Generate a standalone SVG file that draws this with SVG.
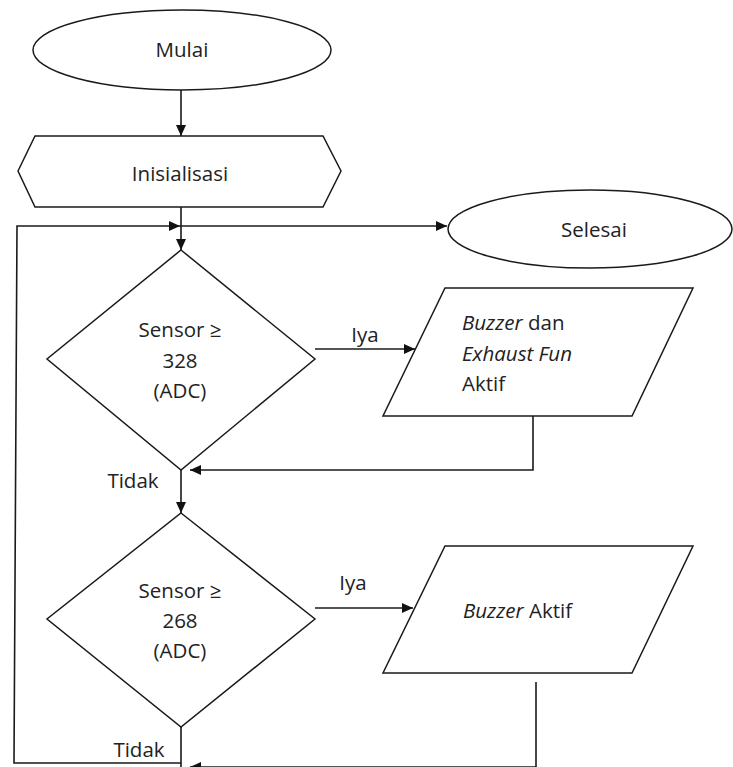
<svg xmlns="http://www.w3.org/2000/svg" width="733" height="767" viewBox="0 0 733 767">
<style>
.s{fill:#fff;stroke:#1a1a1a;stroke-width:1.5}
.c{fill:none;stroke:#1a1a1a;stroke-width:1.6}
text{font-family:"Open Sans","Noto Sans","Liberation Sans",sans-serif;font-size:20.5px;fill:#222}
.m{text-anchor:middle}
.i{font-style:italic}
</style>
<defs>
<marker id="ah" markerUnits="userSpaceOnUse" markerWidth="12" markerHeight="10" refX="11" refY="5" orient="auto">
<path d="M0,0 L11,5 L0,10 Z" fill="#111"/>
</marker>
</defs>
<rect width="733" height="767" fill="#fff"/>
<g id="connectors">
<path class="c" d="M181,90 V136" marker-end="url(#ah)"/>
<path class="c" d="M181,207 V250" marker-end="url(#ah)"/>
<path class="c" d="M181,763 H14 L17,226 H180" marker-end="url(#ah)"/>
<path class="c" d="M180,226 H447" marker-end="url(#ah)"/>
<path class="c" d="M315,349 H415" marker-end="url(#ah)"/>
<path class="c" d="M533,416 V470 H190" marker-end="url(#ah)"/>
<path class="c" d="M181,470 V513" marker-end="url(#ah)"/>
<path class="c" d="M315,608 H413" marker-end="url(#ah)"/>
<path class="c" d="M536,682 V767"/>
<path class="c" d="M536,767 H190" marker-end="url(#ah)"/>
<path class="c" d="M181,727 V767"/>
<text x="365" y="342" class="m">Iya</text>
<text x="353" y="590" class="m">Iya</text>
<text x="133" y="488" class="m">Tidak</text>
<text x="139" y="757" class="m">Tidak</text>
</g>
<g id="mulai">
<ellipse class="s" cx="182" cy="50" rx="149" ry="40"/>
<text x="182" y="57" class="m">Mulai</text>
</g>
<g id="inisialisasi">
<polygon class="s" points="18,171 35,136 323,136 341,171 323,207 35,207"/>
<text x="180" y="181" class="m">Inisialisasi</text>
</g>
<g id="selesai">
<ellipse class="s" cx="590" cy="229" rx="142" ry="39"/>
<text x="594" y="237" class="m">Selesai</text>
</g>
<g id="cek328">
<polygon class="s" points="181,250 315,359 181,470 47,359"/>
<text x="180" y="337" class="m">Sensor ≥</text>
<text x="180" y="368" class="m">328</text>
<text x="180" y="398" class="m">(ADC)</text>
</g>
<g id="buzzerExhaust">
<polygon class="s" points="445,288 693,288 632,416 383,416"/>
<text x="462" y="330"><tspan class="i">Buzzer</tspan> dan</text>
<text x="462" y="361" class="i">Exhaust Fun</text>
<text x="462" y="391">Aktif</text>
</g>
<g id="cek268">
<polygon class="s" points="181,513 315,619 181,727 47,619"/>
<text x="180" y="598" class="m">Sensor ≥</text>
<text x="180" y="628" class="m">268</text>
<text x="180" y="658" class="m">(ADC)</text>
</g>
<g id="buzzer">
<polygon class="s" points="445,546 693,546 632,673 383,673"/>
<text x="463" y="618"><tspan class="i">Buzzer</tspan> Aktif</text>
</g>
</svg>
